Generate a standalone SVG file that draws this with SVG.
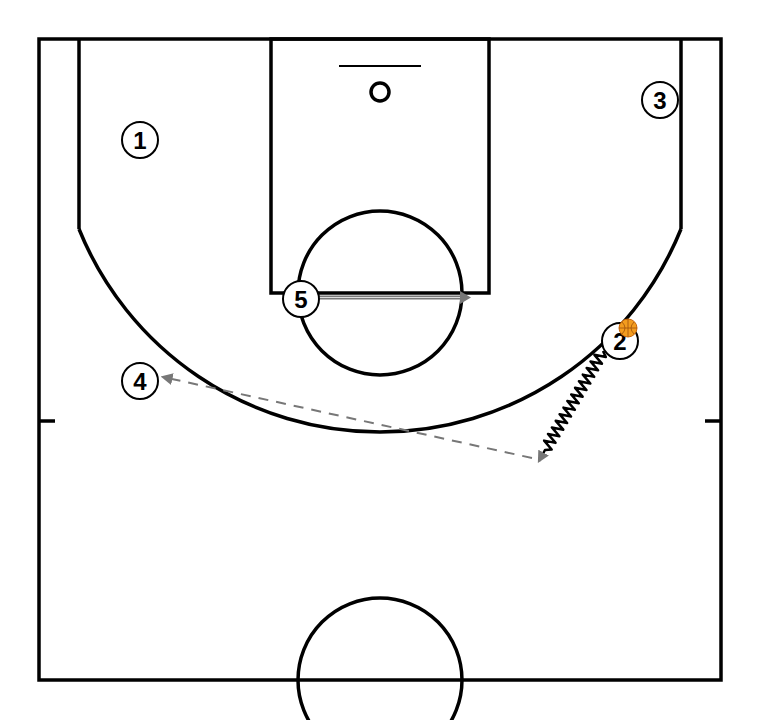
<svg xmlns="http://www.w3.org/2000/svg" width="760" height="720" viewBox="0 0 760 720">
<style>
.court{fill:none;stroke:#000;stroke-width:3.5}
.player circle{fill:#fff;stroke:#000;stroke-width:2}
.player text{font-family:"Liberation Sans",Arial,sans-serif;font-weight:bold;font-size:24px;text-anchor:middle;fill:#000}
.pass{fill:none;stroke:#777;stroke-width:2;stroke-dasharray:10 8}
.dribble{fill:none;stroke:#000;stroke-width:2.5;stroke-linejoin:round}
</style>
<defs>
<marker id="ahs" viewBox="0 0 10 10" refX="8" refY="5" markerWidth="12" markerHeight="12" orient="auto" markerUnits="userSpaceOnUse">
<path d="M0,0 L10,5 L0,10 Z" fill="#777"/>
</marker>
</defs>
<rect x="0" y="0" width="760" height="720" fill="#fff"/>
<g id="court">
<rect class="court" x="39" y="39" width="682" height="641"/>
<line class="court" x1="79" y1="39" x2="79" y2="229"/>
<line class="court" x1="681" y1="39" x2="681" y2="229"/>
<path class="court" d="M79,229 A324.65,324.65 0 0 0 681,229"/>
<rect class="court" x="271" y="39" width="218" height="254"/>
<circle class="court" cx="380" cy="293" r="82"/>
<line x1="339" y1="66" x2="421" y2="66" stroke="#000" stroke-width="2"/>
<circle class="court" cx="380" cy="92" r="9"/>
<line class="court" x1="39" y1="421" x2="55" y2="421"/>
<line class="court" x1="705" y1="421" x2="721" y2="421"/>
<circle class="court" cx="380" cy="680" r="82"/>
</g>
<g id="connectors">
<g id="screen-5">
<line x1="319" y1="297.5" x2="462" y2="297.5" stroke="#777" stroke-width="4"/>
<line x1="319" y1="297.5" x2="462" y2="297.5" stroke="#ddd" stroke-width="1.2"/>
<path d="M460,291 L471,297.5 L460,304 Z" fill="#777"/>
</g>
<line id="pass-2-4" class="pass" x1="532" y1="458" x2="163" y2="377" marker-end="url(#ahs)"/>
<polyline id="dribble-2" class="dribble" marker-end="url(#ahs)" points="603,351 605.82,357.08 594.38,354.82 601.95,363.68 590.52,361.42 598.08,370.28 586.65,368.02 594.22,376.88 582.78,374.62 590.35,383.48 578.92,381.22 586.48,390.08 575.05,387.82 582.62,396.68 571.18,394.42 578.75,403.28 567.32,401.02 574.88,409.88 563.45,407.62 571.02,416.48 559.58,414.22 567.15,423.08 555.72,420.82 563.28,429.68 551.85,427.42 559.42,436.28 547.98,434.02 555.55,442.88 544.12,440.62 551.68,449.48 545,450 539,461"/>
</g>
<g id="player-1" class="player"><circle cx="140" cy="140" r="18"/><text x="140" y="149">1</text></g>
<g id="player-3" class="player"><circle cx="660" cy="100" r="18"/><text x="660" y="109">3</text></g>
<g id="player-4" class="player"><circle cx="140" cy="381" r="18"/><text x="140" y="390">4</text></g>
<g id="player-5" class="player"><circle cx="301" cy="299" r="18"/><text x="301" y="308">5</text></g>
<g id="player-2" class="player"><circle cx="620" cy="341" r="18"/><text x="620" y="350">2</text></g>
<g id="ball">
<circle cx="628" cy="328" r="9" fill="#f39c1e" stroke="#c8660a" stroke-width="1"/>
<path d="M619,328 H637 M628,319 V337 M622,322 Q628,328 622,334 M634,322 Q628,328 634,334" fill="none" stroke="#a0520a" stroke-width="0.8"/>
</g>
</svg>
